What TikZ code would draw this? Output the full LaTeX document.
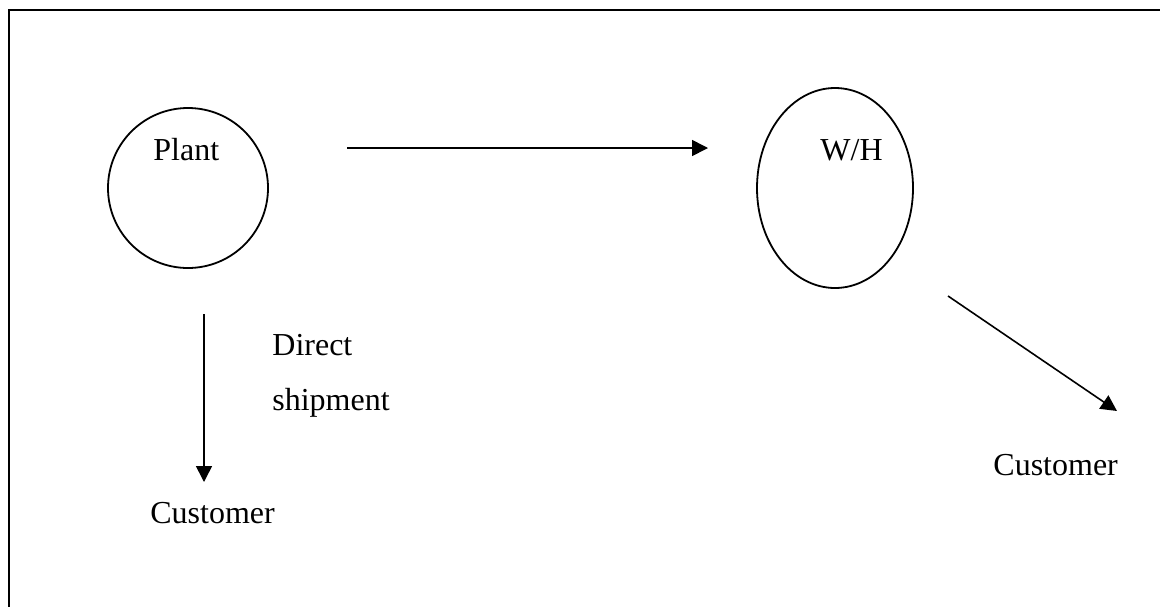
\documentclass[tikz,border=0pt]{standalone}
\usepackage{fontspec}
\setmainfont{Liberation Serif}
\usetikzlibrary{arrows.meta}
\begin{document}
\begin{tikzpicture}[x=0.5pt,y=-0.5pt,
  shape line/.style={line width=0.9pt},
  flow/.style={line width=0.8pt,-{Triangle[length=8pt,width=8pt]}},
  lbl/.style={anchor=base west,inner sep=0pt,font=\fontsize{16pt}{19pt}\selectfont}]
\useasboundingbox (0,0) rectangle (1160,606);
\begin{scope}
\clip (0,0) rectangle (1160,606);
\draw[line width=1.1pt] (9,640) -- (9,10) -- (1200,10);
\end{scope}
% shapes
\draw[shape line] (188,188) circle[radius=80];
\draw[shape line] (835,188) ellipse[x radius=78,y radius=100];
% labels
\node[lbl] (plant) at (153,160) {Plant};
\node[lbl] (wh) at (820,160) {W/H};
\node[lbl] (direct) at (272,355) {Direct};
\node[lbl] (ship) at (272,410) {shipment};
\node[lbl] (cust1) at (150,523) {Customer};
\node[lbl] (cust2) at (993,475) {Customer};
% arrow end points
\coordinate (h1) at (347,148);
\coordinate (h2) at (708,148);
\coordinate (v1) at (204,314);
\coordinate (v2) at (204,482);
\coordinate (d1) at (948,296);
\coordinate (d2) at (1117,411);
\draw[flow] (h1) -- (h2);
\draw[flow] (v1) -- (v2);
\draw[flow] (d1) -- (d2);
\end{tikzpicture}
\end{document}
